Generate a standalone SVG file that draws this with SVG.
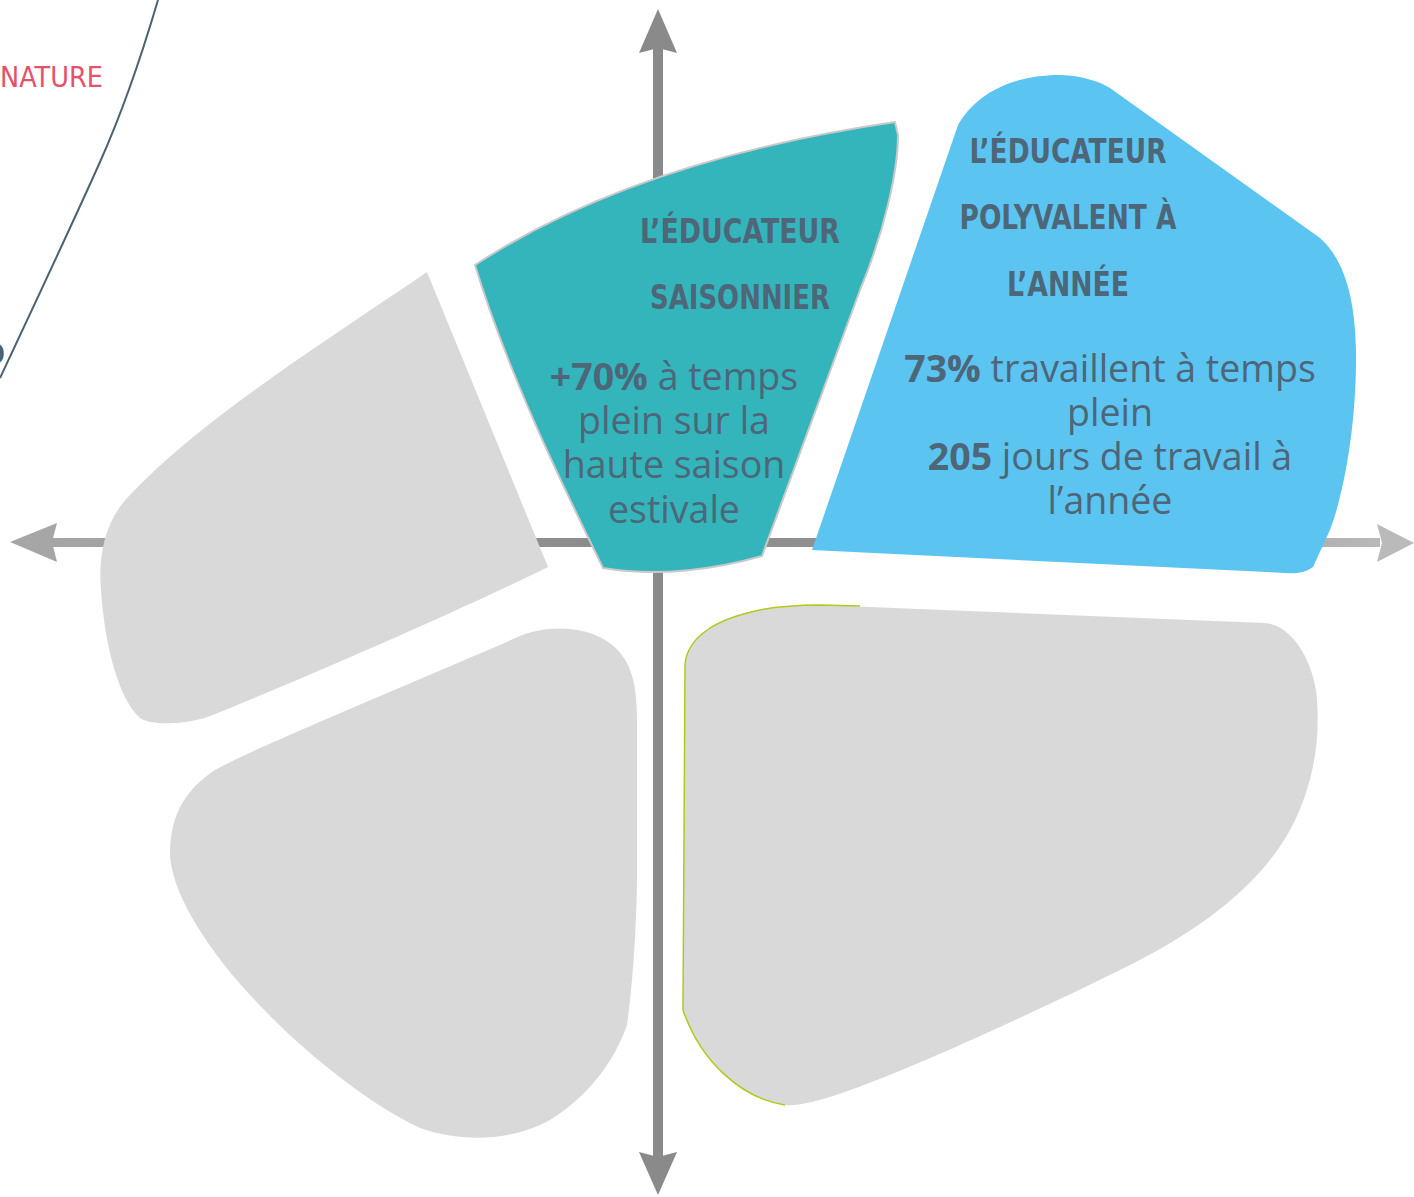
<svg xmlns="http://www.w3.org/2000/svg" width="1414" height="1197" viewBox="0 0 1414 1197">
<style>
.gray{fill:#d9d9d9}
.title{font-family:"DejaVu Sans Condensed","Liberation Sans Narrow","Roboto",sans-serif;font-weight:900;font-size:34px;fill:#4d6678;text-anchor:middle}
.body{font-family:"Open Sans","Noto Sans",sans-serif;font-size:37.5px;fill:#4d6678;text-anchor:middle}
.body .b{font-weight:bold}
.axisfill{fill:#8a8a8a}
</style>
<defs>
<linearGradient id="hgrad" gradientUnits="userSpaceOnUse" x1="0" y1="0" x2="1414" y2="0">
<stop offset="0" stop-color="#a8a8a8"/>
<stop offset="0.45" stop-color="#8a8a8a"/>
<stop offset="0.8" stop-color="#9a9a9a"/>
<stop offset="1" stop-color="#bdbdbd"/>
</linearGradient>
</defs>
<rect width="1414" height="1197" fill="#ffffff"/>

<g id="connectors">
<rect x="50" y="538" width="1330" height="9" fill="url(#hgrad)"/>
<polygon points="10,542 57,523 52,542 57,562" fill="#a6a6a6"/>
<polygon points="1414,543 1377,524 1382,543 1377,562" fill="#bababa"/>
<rect x="653" y="48" width="10" height="1110" class="axisfill"/>
<polygon points="658,9 639,53 658,48 677,53" class="axisfill"/>
<polygon points="658,1195 639,1152 658,1157 677,1152" class="axisfill"/>
</g>

<g id="curve">
<path d="M158,0 Q130,95 100,162 T0,378" fill="none" stroke="#4a6272" stroke-width="2"/>
<text x="5" y="364" text-anchor="end" style="font-family:'DejaVu Sans Condensed','Liberation Sans',sans-serif;font-weight:bold;font-size:28px;fill:#4a6272">O</text>
</g>

<g id="label-nature">
<text x="0" y="87" textLength="103" lengthAdjust="spacingAndGlyphs" style="font-family:'DejaVu Sans Condensed','Liberation Sans',sans-serif;font-size:28px;fill:#e8506a">NATURE</text>
</g>

<g id="node-upper-left">
<path class="gray" d="M427,272 L548,567 C450,615 300,680 205,718 C180,725 150,725 140,718 C120,700 105,650 101,590 C98,555 105,520 130,495 C200,420 320,345 427,272 Z"/>
</g>

<g id="node-lower-left">
<path class="gray" d="M520,636 C545,626 580,625 605,640 C630,655 637,680 637,720 L637,880 C636,940 632,990 627,1025 C615,1060 590,1095 550,1120 C510,1142 460,1142 420,1128 C370,1105 300,1050 250,995 C200,940 172,890 170,855 C170,815 185,790 215,770 C260,745 420,680 520,636 Z"/>
</g>

<g id="node-lower-right">
<path class="gray" d="M685,665 C687,635 720,618 760,610 C780,606 800,605 820,605 L1265,623 C1290,625 1310,655 1316,690 C1322,740 1312,790 1290,830 C1260,885 1200,930 1130,965 C1050,1005 900,1075 830,1097 C810,1103 795,1106 785,1105 C740,1098 700,1060 683,1010 Z"/>
<path d="M860,606 L820,605 C800,605 780,606 760,610 C720,618 687,635 685,665 L683,1010 C700,1060 740,1098 785,1105" fill="none" stroke="#b3c91a" stroke-width="1.5"/>
</g>

<g id="node-saisonnier">
<path d="M475,265 Q636,160 895,122 L898,135 C898,170 885,230 860,290 L762,556 C720,568 660,578 603,568 C570,500 510,380 475,265 Z" fill="#33b5bb" stroke="#c9c9c9" stroke-width="2"/>
<text class="title" x="740" y="243" textLength="200" lengthAdjust="spacingAndGlyphs">L’ÉDUCATEUR</text>
<text class="title" x="740" y="309" textLength="180" lengthAdjust="spacingAndGlyphs">SAISONNIER</text>
<text class="body" x="674" y="390"><tspan class="b">+70%</tspan> à temps</text>
<text class="body" x="674" y="434">plein sur la</text>
<text class="body" x="674" y="478">haute saison</text>
<text class="body" x="674" y="523">estivale</text>
</g>

<g id="node-polyvalent">
<path d="M958,125 C975,95 1010,75 1060,75 C1085,76 1100,82 1110,88 L1320,238 C1345,260 1355,300 1356,350 C1357,420 1345,490 1330,530 L1313,567 C1305,573 1295,574 1285,573 L812,550 Z" fill="#5bc4f1"/>
<text class="title" x="1068" y="163" textLength="197" lengthAdjust="spacingAndGlyphs">L’ÉDUCATEUR</text>
<text class="title" x="1068" y="229" textLength="217" lengthAdjust="spacingAndGlyphs">POLYVALENT À</text>
<text class="title" x="1068" y="296" textLength="122" lengthAdjust="spacingAndGlyphs">L’ANNÉE</text>
<text class="body" x="1110" y="382"><tspan class="b">73%</tspan> travaillent à temps</text>
<text class="body" x="1110" y="426">plein</text>
<text class="body" x="1110" y="470"><tspan class="b">205</tspan> jours de travail à</text>
<text class="body" x="1110" y="514">l’année</text>
</g>
</svg>
